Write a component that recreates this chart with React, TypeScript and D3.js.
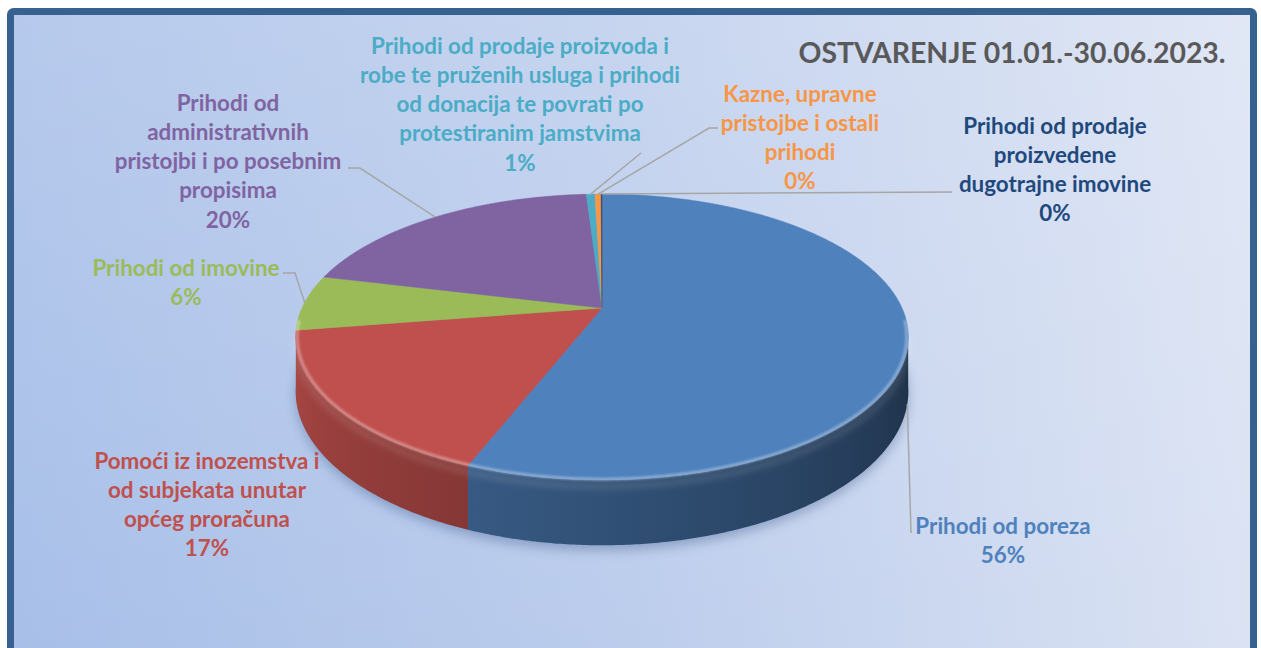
import React from "react";
import * as d3 from "d3";

const categories = [
  "Prihodi od poreza",
  "Pomoći iz inozemstva i od subjekata unutar općeg proračuna",
  "Prihodi od imovine",
  "Prihodi od administrativnih pristojbi i po posebnim propisima",
  "Prihodi od prodaje proizvoda i robe te pruženih usluga i prihodi od donacija te povrati po protestiranim jamstvima",
  "Kazne, upravne pristojbe i ostali prihodi",
  "Prihodi od prodaje proizvedene dugotrajne imovine",
];
const values = [55.9, 16.6, 6.3, 20.2, 0.55, 0.4, 0.05];
const colors = ["#4f81bd", "#c0504d", "#9bbb59", "#8064a2", "#4bacc6", "#f79646", "#1f497d"];
const labelLines = [
  ["Prihodi od poreza"],
  ["Pomoći iz inozemstva i", "od subjekata unutar", "općeg proračuna"],
  ["Prihodi od imovine"],
  ["Prihodi od", "administrativnih", "pristojbi i po posebnim", "propisima"],
  ["Prihodi od prodaje proizvoda i", "robe te pruženih usluga i prihodi", "od donacija te povrati po", "protestiranim jamstvima"],
  ["Kazne, upravne", "pristojbe i ostali", "prihodi"],
  ["Prihodi od prodaje", "proizvedene", "dugotrajne imovine"],
];
const title = "OSTVARENJE 01.01.-30.06.2023.";

// layout
const W = 1261, H = 648;
const CX = 602, CY = 308, R = 300, B = 0.457, P = 0.203, DEPTH = 52;
const LINE_H = 29.3;
const FONT = "Lato, 'Open Sans', sans-serif";
const labelPos: { x: number; y: number; leader?: [number, number][]; wall?: boolean }[] = [
  { x: 1003, y: 525, leader: [[911, 533]], wall: true },
  { x: 207, y: 460 },
  { x: 186, y: 267, leader: [[295, 273], [283, 273]] },
  { x: 228, y: 102, leader: [[360, 168], [348, 168]] },
  { x: 520, y: 45, leader: [[641, 153]] },
  { x: 800, y: 93, leader: [[709, 128], [718, 128]] },
  { x: 1055, y: 125, leader: [[952, 192]] },
];

function proj(t: number, r = R, drop = 0): [number, number] {
  const u = Math.sin(t), v = -Math.cos(t);
  const w = 1 - P * v;
  return [CX + (r * u) / w, CY + (r * B * v + drop) / w];
}

function shade(c: string, f: number) {
  const k = d3.rgb(c);
  return d3.rgb(k.r * f, k.g * f, k.b * f).formatHex();
}

function wallFactor(t: number) {
  const deg = (t * 180) / Math.PI;
  const f = 0.4 + ((deg - 110) / 140) * 0.45;
  return Math.max(0.36, Math.min(0.9, f));
}

function arcPoints(a0: number, a1: number, r = R, drop = 0) {
  const n = Math.max(2, Math.ceil(((a1 - a0) * 180) / Math.PI / 0.5));
  const pts: [number, number][] = [];
  for (let i = 0; i <= n; i++) pts.push(proj(a0 + ((a1 - a0) * i) / n, r, drop));
  return pts;
}

const DEG = Math.PI / 180;
const SIL0 = Math.acos(-P) , SIL1 = 2 * Math.PI - Math.acos(-P); // silhouette angles

export default function App() {
  const pie = d3.pie<number>().sort(null).startAngle(0).endAngle(2 * Math.PI);
  const arcs = pie(values);
  const total = d3.sum(values);
  const line = d3.line();

  // walls: one path per slice with horizontal gradient
  const walls: { v: number; d: string; i: number; x1: number; x2: number; stops: { o: number; c: string }[] }[] = [];
  arcs.forEach((a, i) => {
    const lo = Math.max(a.startAngle, SIL0 - 2 * DEG);
    const hi = Math.min(a.endAngle, SIL1 + 2 * DEG);
    if (hi <= lo) return;
    const top = arcPoints(lo, hi);
    const bot = arcPoints(lo, hi, R, DEPTH).reverse();
    const d = line([...top, ...bot])! + "Z";
    const glo = Math.max(lo, SIL0), ghi = Math.min(hi, SIL1);
    const xa = proj(glo)[0], xb = proj(ghi)[0];
    const stops: { o: number; c: string }[] = [];
    const n = 12;
    for (let k = 0; k <= n; k++) {
      const t = glo + ((ghi - glo) * k) / n;
      const x = proj(t)[0];
      const o = xa === xb ? 0 : (x - xa) / (xb - xa);
      stops.push({ o: Math.max(0, Math.min(1, o)), c: shade(colors[i], wallFactor(t)) });
    }
    stops.sort((p, q) => p.o - q.o);
    walls.push({ v: -Math.cos((lo + hi) / 2), d, i, x1: xa, x2: xb === xa ? xa + 1 : xb, stops });
  });
  walls.sort((a, b) => a.v - b.v);

  const shadowPath = line(arcPoints(0, 2 * Math.PI, R, DEPTH + 4))! + "Z";
  const rimHi = line(arcPoints(95 * DEG, 265 * DEG, R - 1.5))!;
  const rimHi2 = line(arcPoints(100 * DEG, 260 * DEG, R, 5))!;

  return (
    <svg width={W} height={H} style={{ position: "absolute", left: 0, top: 0, display: "block" }}>
      <defs>
        <linearGradient id="bg" x1="0" y1="0" x2="1" y2="0">
          <stop offset="0" stopColor="#a6bee8" />
          <stop offset="0.5" stopColor="#bbccec" />
          <stop offset="1" stopColor="#dae2f3" />
        </linearGradient>
        <linearGradient id="bgv" x1="0" y1="0" x2="0" y2="1">
          <stop offset="0" stopColor="#ffffff" stopOpacity="0.18" />
          <stop offset="1" stopColor="#ffffff" stopOpacity="0" />
        </linearGradient>
        {walls.map((w) => (
          <linearGradient key={w.i} id={`wall${w.i}`} gradientUnits="userSpaceOnUse" x1={w.x1} y1={0} x2={w.x2} y2={0}>
            {w.stops.map((s, k) => (
              <stop key={k} offset={s.o} stopColor={s.c} />
            ))}
          </linearGradient>
        ))}
        <filter id="blur6" x="-20%" y="-20%" width="140%" height="140%">
          <feGaussianBlur stdDeviation="6" />
        </filter>
        <filter id="blur1" x="-10%" y="-10%" width="120%" height="120%">
          <feGaussianBlur stdDeviation="1.2" />
        </filter>
        <filter id="blur3" x="-10%" y="-10%" width="120%" height="120%">
          <feGaussianBlur stdDeviation="3" />
        </filter>
      </defs>
      <rect x={0} y={0} width={W} height={H} fill="#ffffff" />
      <rect x={10.5} y={11.5} width={1243} height={700} rx={3} fill="url(#bg)" />
      <rect x={10.5} y={11.5} width={1243} height={700} rx={3} fill="url(#bgv)" />
      <rect x={10.5} y={11.5} width={1243} height={700} rx={3} fill="none" stroke="#37618f" strokeWidth={7} />

      {/* shadow */}
      <path d={shadowPath} fill="#2c4a7a" opacity={0.35} filter="url(#blur6)" />

      {/* walls */}
      <g>
        {walls.map((w) => (
          <path key={w.i} d={w.d} fill={`url(#wall${w.i})`} />
        ))}
      </g>
      <path d={rimHi2} fill="none" stroke="#ffffff" strokeOpacity={0.12} strokeWidth={6} filter="url(#blur3)" />

      {/* top faces */}
      <g>
        {arcs.map((a, i) => {
          const pts = [[CX, CY] as [number, number], ...arcPoints(a.startAngle, a.endAngle)];
          return <path key={i} d={line(pts)! + "Z"} fill={colors[i]} stroke={colors[i]} strokeWidth={0.5} />;
        })}
      </g>
      <path d={rimHi} fill="none" stroke="#ffffff" strokeOpacity={0.35} strokeWidth={3} filter="url(#blur1)" />

      {/* leader lines */}
      <g fill="none" stroke="#a6a6a6" strokeWidth={1.5}>
        {arcs.map((a, i) => {
          const lp = labelPos[i];
          if (!lp.leader) return null;
          const mid = (a.startAngle + a.endAngle) / 2;
          const start = lp.wall ? proj(mid + 0.1, R, DEPTH) : proj(mid);
          return <path key={i} d={line([start, ...lp.leader])!} />;
        })}
      </g>

      {/* labels */}
      <g fontFamily={FONT} fontWeight="bold" fontSize={22.4} textAnchor="middle">
        {arcs.map((a, i) => {
          const lp = labelPos[i];
          const lines = [...labelLines[i], `${Math.round((values[i] / total) * 100)}%`];
          return (
            <text key={i} fill={colors[i]}>
              {lines.map((t, j) => (
                <tspan key={j} x={lp.x} y={lp.y + j * LINE_H} dominantBaseline="central">
                  {t}
                </tspan>
              ))}
            </text>
          );
        })}
      </g>

      <text x={1012} y={52} fontFamily={FONT} fontWeight="bold" fontSize={28.4} fill="#595959" textAnchor="middle" dominantBaseline="central">
        {title}
      </text>
    </svg>
  );
}
